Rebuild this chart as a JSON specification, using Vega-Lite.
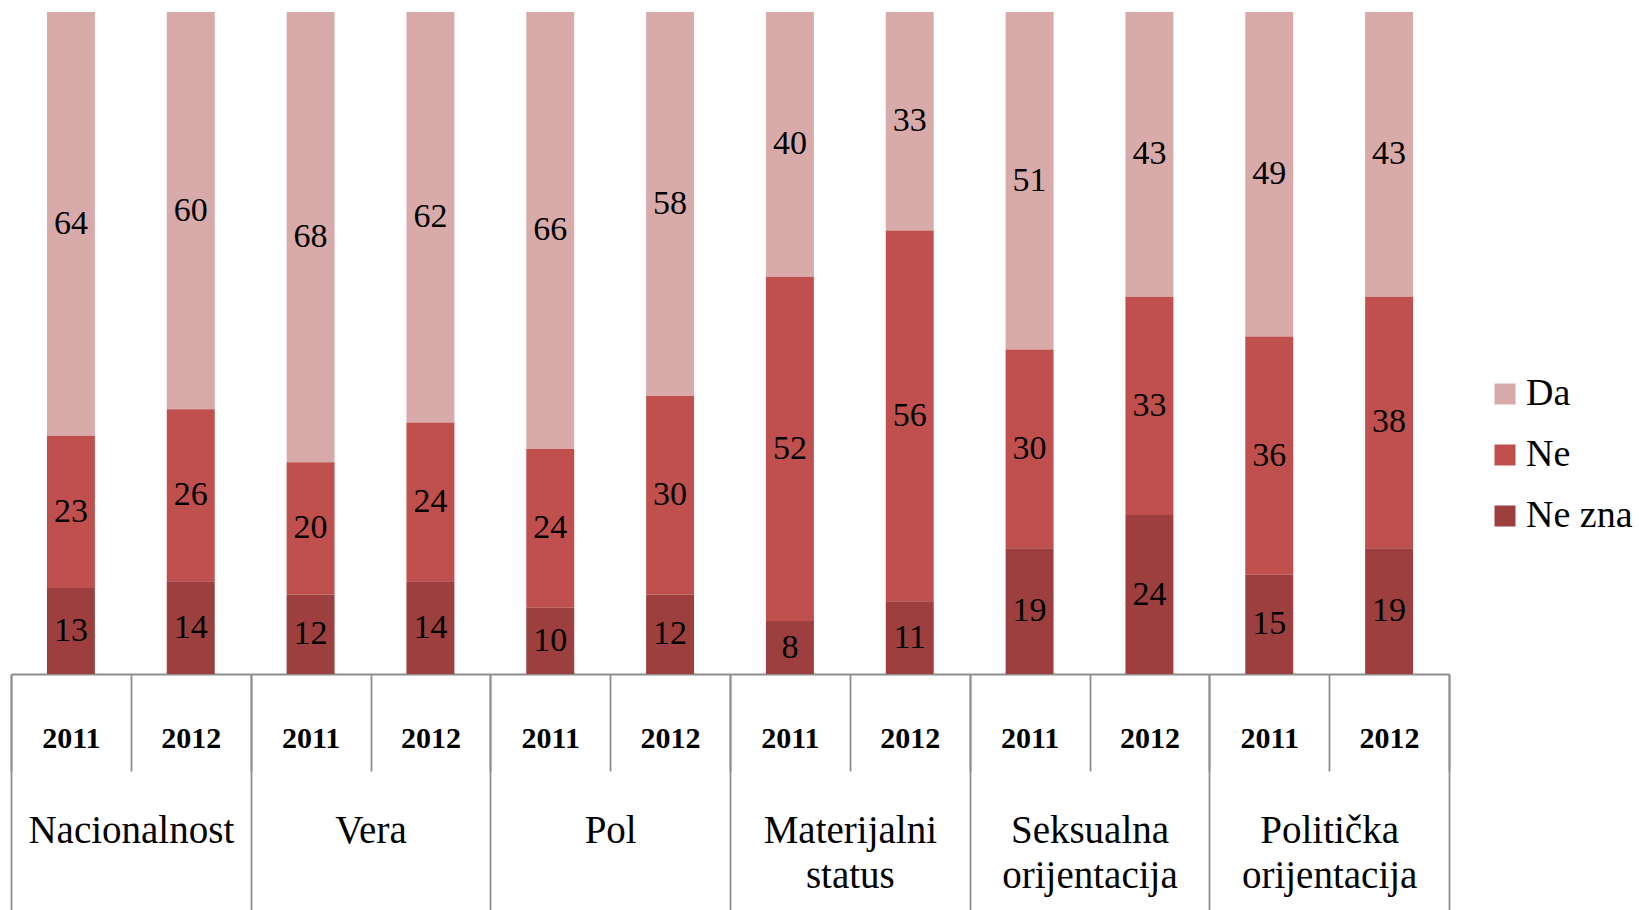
{
  "$schema": "https://vega.github.io/schema/vega-lite/v6.json",
  "width": 1438,
  "height": 662,
  "autosize": {"type": "none"},
  "padding": {"left": 11, "top": 12, "right": 190, "bottom": 236},
  "config": {"view": {"stroke": null}, "font": "Liberation Serif"},
  "data": {
    "values": [
      {"bar": "Nacionalnost 2011", "group": "Nacionalnost", "year": "2011", "answer": "Da", "value": 64},
      {"bar": "Nacionalnost 2011", "group": "Nacionalnost", "year": "2011", "answer": "Ne", "value": 23},
      {"bar": "Nacionalnost 2011", "group": "Nacionalnost", "year": "2011", "answer": "Ne zna", "value": 13},
      {"bar": "Nacionalnost 2012", "group": "Nacionalnost", "year": "2012", "answer": "Da", "value": 60},
      {"bar": "Nacionalnost 2012", "group": "Nacionalnost", "year": "2012", "answer": "Ne", "value": 26},
      {"bar": "Nacionalnost 2012", "group": "Nacionalnost", "year": "2012", "answer": "Ne zna", "value": 14},
      {"bar": "Vera 2011", "group": "Vera", "year": "2011", "answer": "Da", "value": 68},
      {"bar": "Vera 2011", "group": "Vera", "year": "2011", "answer": "Ne", "value": 20},
      {"bar": "Vera 2011", "group": "Vera", "year": "2011", "answer": "Ne zna", "value": 12},
      {"bar": "Vera 2012", "group": "Vera", "year": "2012", "answer": "Da", "value": 62},
      {"bar": "Vera 2012", "group": "Vera", "year": "2012", "answer": "Ne", "value": 24},
      {"bar": "Vera 2012", "group": "Vera", "year": "2012", "answer": "Ne zna", "value": 14},
      {"bar": "Pol 2011", "group": "Pol", "year": "2011", "answer": "Da", "value": 66},
      {"bar": "Pol 2011", "group": "Pol", "year": "2011", "answer": "Ne", "value": 24},
      {"bar": "Pol 2011", "group": "Pol", "year": "2011", "answer": "Ne zna", "value": 10},
      {"bar": "Pol 2012", "group": "Pol", "year": "2012", "answer": "Da", "value": 58},
      {"bar": "Pol 2012", "group": "Pol", "year": "2012", "answer": "Ne", "value": 30},
      {"bar": "Pol 2012", "group": "Pol", "year": "2012", "answer": "Ne zna", "value": 12},
      {"bar": "Materijalni status 2011", "group": "Materijalni status", "year": "2011", "answer": "Da", "value": 40},
      {"bar": "Materijalni status 2011", "group": "Materijalni status", "year": "2011", "answer": "Ne", "value": 52},
      {"bar": "Materijalni status 2011", "group": "Materijalni status", "year": "2011", "answer": "Ne zna", "value": 8},
      {"bar": "Materijalni status 2012", "group": "Materijalni status", "year": "2012", "answer": "Da", "value": 33},
      {"bar": "Materijalni status 2012", "group": "Materijalni status", "year": "2012", "answer": "Ne", "value": 56},
      {"bar": "Materijalni status 2012", "group": "Materijalni status", "year": "2012", "answer": "Ne zna", "value": 11},
      {"bar": "Seksualna orijentacija 2011", "group": "Seksualna orijentacija", "year": "2011", "answer": "Da", "value": 51},
      {"bar": "Seksualna orijentacija 2011", "group": "Seksualna orijentacija", "year": "2011", "answer": "Ne", "value": 30},
      {"bar": "Seksualna orijentacija 2011", "group": "Seksualna orijentacija", "year": "2011", "answer": "Ne zna", "value": 19},
      {"bar": "Seksualna orijentacija 2012", "group": "Seksualna orijentacija", "year": "2012", "answer": "Da", "value": 43},
      {"bar": "Seksualna orijentacija 2012", "group": "Seksualna orijentacija", "year": "2012", "answer": "Ne", "value": 33},
      {"bar": "Seksualna orijentacija 2012", "group": "Seksualna orijentacija", "year": "2012", "answer": "Ne zna", "value": 24},
      {"bar": "Politička orijentacija 2011", "group": "Politička orijentacija", "year": "2011", "answer": "Da", "value": 49},
      {"bar": "Politička orijentacija 2011", "group": "Politička orijentacija", "year": "2011", "answer": "Ne", "value": 36},
      {"bar": "Politička orijentacija 2011", "group": "Politička orijentacija", "year": "2011", "answer": "Ne zna", "value": 15},
      {"bar": "Politička orijentacija 2012", "group": "Politička orijentacija", "year": "2012", "answer": "Da", "value": 43},
      {"bar": "Politička orijentacija 2012", "group": "Politička orijentacija", "year": "2012", "answer": "Ne", "value": 38},
      {"bar": "Politička orijentacija 2012", "group": "Politička orijentacija", "year": "2012", "answer": "Ne zna", "value": 19}
    ]
  },
  "layer": [
    {
      "transform": [
        {"stack": "value", "groupby": ["bar"], "sort": [{"field": "answer", "order": "descending"}], "as": ["v0", "v1"]},
        {"calculate": "(datum.v0 + datum.v1) / 2", "as": "mid"}
      ],
      "encoding": {
        "x": {
          "field": "bar",
          "type": "nominal",
          "scale": {
            "type": "band",
            "domain": ["Nacionalnost 2011", "Nacionalnost 2012", "Vera 2011", "Vera 2012", "Pol 2011", "Pol 2012", "Materijalni status 2011", "Materijalni status 2012", "Seksualna orijentacija 2011", "Seksualna orijentacija 2012", "Politička orijentacija 2011", "Politička orijentacija 2012"],
            "paddingInner": 0.6,
            "paddingOuter": 0.3
          },
          "axis": null
        }
      },
      "layer": [
        {
          "mark": {"type": "bar"},
          "encoding": {
            "y": {"field": "v0", "type": "quantitative", "scale": {"domain": [0, 100]}, "axis": null},
            "y2": {"field": "v1"},
            "color": {
              "field": "answer",
              "type": "nominal",
              "scale": {"domain": ["Da", "Ne", "Ne zna"], "range": ["#D9AAAA", "#C0504D", "#9C3F3E"]},
              "legend": {
                "title": null,
                "orient": "none",
                "legendX": 1475,
                "legendY": 363,
                "symbolType": "square",
                "symbolSize": 441,
                "symbolOpacity": 1,
                "labelFontSize": 38,
                "labelColor": "#000000",
                "labelOffset": 2,
                "rowPadding": 23,
                "padding": 0
              }
            }
          }
        },
        {
          "mark": {"type": "text", "fontSize": 34, "color": "#000000", "baseline": "middle", "align": "center"},
          "encoding": {
            "y": {"field": "mid", "type": "quantitative", "scale": {"domain": [0, 100]}, "axis": null},
            "text": {"field": "value", "type": "quantitative"}
          }
        }
      ]
    },
    {
      "mark": {"type": "bar", "opacity": 0},
      "encoding": {
        "x": {
          "field": "bar",
          "type": "nominal",
          "scale": {
            "type": "band",
            "domain": ["Nacionalnost 2011", "Nacionalnost 2012", "Vera 2011", "Vera 2012", "Pol 2011", "Pol 2012", "Materijalni status 2011", "Materijalni status 2012", "Seksualna orijentacija 2011", "Seksualna orijentacija 2012", "Politička orijentacija 2011", "Politička orijentacija 2012"],
            "paddingInner": 0,
            "paddingOuter": 0
          },
          "axis": {
            "title": null,
            "orient": "bottom",
            "labelExpr": "datum.label ? substring(datum.label, length(datum.label) - 4) : ''",
            "labelAngle": 0,
            "labelFontSize": 30,
            "labelFontWeight": "bold",
            "labelColor": "#000000",
            "labelBaseline": "alphabetic",
            "labelPadding": -24,
            "labelOverlap": false,
            "labelLimit": 300,
            "tickBand": "extent",
            "tickSize": 97,
            "tickColor": "#8E8E8E",
            "tickWidth": 1.8,
            "domain": true,
            "domainColor": "#8E8E8E",
            "domainWidth": 2,
            "grid": false
          }
        },
        "y": {"field": "value", "type": "quantitative", "scale": {"domain": [0, 100]}, "axis": null}
      }
    },
    {
      "mark": {"type": "bar", "opacity": 0},
      "encoding": {
        "x": {
          "field": "group",
          "type": "nominal",
          "scale": {
            "type": "band",
            "domain": ["Nacionalnost", "Vera", "Pol", "Materijalni status", "Seksualna orijentacija", "Politička orijentacija"],
            "paddingInner": 0,
            "paddingOuter": 0
          },
          "axis": {
            "title": null,
            "orient": "bottom",
            "labelExpr": "datum.label ? split(datum.label, ' ') : ''",
            "labelAngle": 0,
            "labelFontSize": 39,
            "labelColor": "#000000",
            "labelBaseline": "alphabetic",
            "labelLineHeight": 45,
            "labelPadding": -68,
            "labelOverlap": false,
            "labelLimit": 400,
            "tickBand": "extent",
            "tickSize": 236,
            "tickColor": "#8E8E8E",
            "tickWidth": 1.8,
            "domain": false,
            "grid": false
          }
        },
        "y": {"field": "value", "type": "quantitative", "scale": {"domain": [0, 100]}, "axis": null}
      }
    }
  ],
  "resolve": {"scale": {"x": "independent"}, "axis": {"x": "independent"}}
}
